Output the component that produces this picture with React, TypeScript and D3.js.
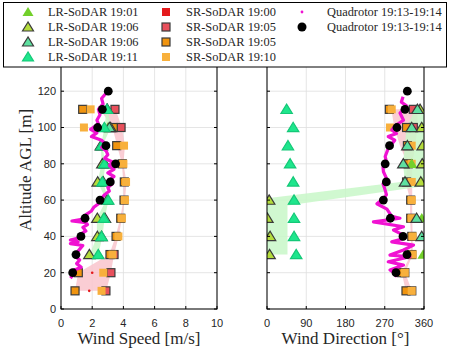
import React from "react";
import * as d3 from "d3";

// ---- data ----
const lrAlt = [30, 40, 50, 60, 70, 80, 90, 100, 110];
const lr1901Speed = [2.4, 2.5, 2.7, null, 2.6, 2.75, null, 3.0, null];
const lr1901Dir = [358, 5, 355, null, 355, 331.8, null, 357, null];
const lr1906aSpeed = [1.82, 2.33, 2.33, 2.95, 2.35, 2.65, 2.55, 3.18, 2.95];
const lr1906aDir = [6, 7, 1, 5, 352.5, 356, 357, 354.7, 351];
const lr1906bSpeed = [null, 2.6, 2.82, null, 2.71, 2.82, 2.62, 3.1, 2.97];
const lr1906bDir = [null, 354.7, 343, null, 316.4, 312.6, 321.8, 331.8, 345];
const lr1911Speed = [2.39, 2.6, 2.75, 3.03, 2.65, 2.78, 2.6, 2.78, 2.95];
const lr1911Dir = [67, 62, 62, 62, 60, 53, 48, 60, 45];

const srAlt = [10, 20, 30, 40, 50, 60, 70, 80, 90, 100, 110];
const sr1900Speed = [1.81, 2.0, null, null, null, null, null, null, null, null, null];
const sr1900Dir = [325, 312, null, null, null, null, null, null, null, null, null];
const sr1905aSpeed = [2.88, 3.2, 3.4, null, null, null, null, null, null, 3.85, 3.46];
const sr1905aDir = [332, 316, null, null, null, null, null, null, null, 335.5, 335.5];
const sr1905bSpeed = [0.9, 1.11, 3.14, 3.53, 3.83, 4.04, 4.06, 3.93, 3.57, 3.35, 1.39];
const sr1905bDir = [318.7, 309, 332, 332, 329.5, 329.5, 320, 324, 322, 320, 280.5];
const sr1910Speed = [2.6, 2.71, 3.3, 3.68, 3.9, 4.1, 4.17, 4.0, 4.04, 1.47, 1.9];
const sr1910Dir = [331.8, 316, 334, 334, 332, 332, 332, 331.8, 331.8, 282, 286];

const quadAlt = [20, 30, 40, 50, 60, 70, 80, 90, 100, 110, 120];
const quadSpeed = [0.75, 0.96, 1.28, 1.54, 2.5, 3.16, 3.5, 2.88, 2.35, 2.65, 3.03];
const quadDir = [295.8, 321, 311.9, 282.8, 266.8, 273.6, 271, 281, 298, 316.4, 321.8];

// high-rate quadrotor trace (alt, value)
const traceSpeed = [
  [119, 2.9], [116, 2.6], [113, 2.7], [110, 2.4], [107, 2.5], [104, 2.3], [102, 2.4],
  [99, 1.9], [97, 2.3], [95, 1.95], [93, 2.6], [91, 2.85], [89, 2.6], [87, 2.9],
  [85, 3.0], [83, 2.8], [81, 3.3], [79, 3.1], [77, 3.4], [75, 3.0], [73, 3.4],
  [71, 3.1], [69, 3.3], [67, 3.0], [65, 3.1], [63, 2.8], [61, 2.6], [58, 2.4],
  [56, 2.1], [54, 1.95], [52, 1.6], [50, 1.7], [48.5, 0.7], [47.5, 1.6], [46.5, 1.7],
  [45, 1.4], [43, 1.6], [41, 1.2], [39.5, 1.3], [38, 0.6], [37, 1.1], [36, 0.6],
  [35, 1.4], [33, 1.2], [31, 1.0], [29, 0.9], [27, 1.2], [25, 1.0], [23, 1.3],
  [21, 0.7], [19, 0.8], [17, 0.6],
];
const traceDir = [
  [117, 312], [114, 308], [112, 320], [108, 305], [104, 313], [101, 294], [98.6, 286],
  [96.7, 297], [95, 278], [93, 293], [88.5, 278], [84, 271], [81, 274], [78, 266],
  [75.6, 267], [72, 274], [69, 266], [67, 269], [63, 274], [61, 268], [58, 252],
  [55, 275], [51, 286], [50, 305], [48, 244], [45.3, 313], [43.5, 290], [41.7, 305],
  [39, 316], [37, 286], [35.2, 336], [32.5, 313], [29.7, 282], [28.8, 328], [26, 278],
  [24.2, 313], [21.5, 282], [19, 297], [17.8, 293],
];

// shaded ranges (alt, lo, hi)
const srBandSpeed = [
  [10, 0.9, 2.9], [20, 1.1, 3.2], [30, 3.1, 3.4], [40, 3.5, 3.7], [50, 3.8, 3.9],
  [60, 4.0, 4.1], [70, 4.0, 4.2], [80, 3.9, 4.0], [90, 3.6, 4.1], [100, 3.3, 3.9], [110, 2.5, 3.5],
];
const lrBandSpeed = [
  [30, 1.85, 2.4], [40, 2.3, 2.65], [50, 2.3, 2.8], [60, 2.9, 3.05], [70, 2.35, 2.7],
  [80, 2.6, 2.85], [90, 2.55, 2.65], [100, 2.8, 3.2], [110, 2.9, 3.0],
];
const srBandDir = [
  [10, 318, 332], [20, 309, 317], [30, 330, 334], [40, 330, 334], [50, 328, 333],
  [60, 328, 333], [70, 318, 333], [80, 322, 333], [90, 305, 340], [100, 292, 345], [110, 285, 345],
];
// polygon vertices (dir, alt)
const lrBandDir = [
  [0, 30], [47, 30], [47, 57], [351, 67.4], [360, 68], [360, 110], [340, 110],
  [320, 100], [312, 80], [316, 70.3], [0, 61],
];

const speedTicks = [0, 2, 4, 6, 8, 10];
const dirTicks = [0, 90, 180, 270, 360];
const altTicks = [0, 20, 40, 60, 80, 100, 120];

const legendLR = ["LR-SoDAR 19:01", "LR-SoDAR 19:06", "LR-SoDAR 19:06", "LR-SoDAR 19:11"];
const legendSR = ["SR-SoDAR 19:00", "SR-SoDAR 19:05", "SR-SoDAR 19:05", "SR-SoDAR 19:10"];
const legendQuad = ["Quadrotor 19:13-19:14", "Quadrotor 19:13-19:14"];

const EDGE = "#3a3a3a";
const lrStyles = [
  { fill: "#72d02a", stroke: "none" },
  { fill: "#b4dc3c", stroke: EDGE },
  { fill: "#5ee0a0", stroke: EDGE },
  { fill: "#1ee68c", stroke: "#14c878" },
];
const srStyles = [
  { fill: "#e41a1c", stroke: "none" },
  { fill: "#e8505c", stroke: EDGE },
  { fill: "#f0940f", stroke: EDGE },
  { fill: "#f8b03c", stroke: "none" },
];

const yScale = d3.scaleLinear().domain([0, 120]).range([309, 91.2]);
const plotTop = 66;
const plotBottom = yScale(0);

const tri = (cx: number, cy: number, s: number) =>
  `M${cx},${cy - s}L${cx - s - 0.5},${cy + s * 0.8}L${cx + s + 0.5},${cy + s * 0.8}Z`;

const sansFont = "Liberation Sans, Arial, sans-serif";
const serifFont = "Liberation Serif, Times New Roman, serif";

type PanelProps = {
  id: string;
  x: d3.ScaleLinear<number, number>;
  ticks: number[];
  showY: boolean;
  label: string;
  lr: (number | null)[][];
  sr: (number | null)[][];
  quad: number[];
  trace: number[][];
  srBand: number[][];
  lrBand?: number[][];
  lrPoly?: number[][];
};

const Panel = ({ id, x, ticks, showY, label, lr, sr, quad, trace, srBand, lrBand, lrPoly }: PanelProps) => {
  const [x0, x1] = x.range();
  const band = d3
    .area<number[]>()
    .y((d) => yScale(d[0]))
    .x0((d) => x(d[1]))
    .x1((d) => x(d[2]));
  const poly = d3
    .line<number[]>()
    .x((d) => x(d[0]))
    .y((d) => yScale(d[1]));
  const traceLine = d3
    .line<number[]>()
    .x((d) => x(d[1]))
    .y((d) => yScale(d[0]));

  return (
    <g>
      <defs>
        <clipPath id={id}>
          <rect x={x0} y={plotTop} width={x1 - x0} height={plotBottom - plotTop} />
        </clipPath>
      </defs>
      {/* grid */}
      {ticks.map((t) => (
        <line key={"gx" + t} x1={x(t)} x2={x(t)} y1={plotTop} y2={plotBottom} stroke="#dedede" strokeWidth={0.8} />
      ))}
      {altTicks.map((t) => (
        <line key={"gy" + t} x1={x0} x2={x1} y1={yScale(t)} y2={yScale(t)} stroke="#dedede" strokeWidth={0.8} />
      ))}
      <g clipPath={`url(#${id})`}>
        <path d={band(srBand) || ""} fill="#f9c4cc" opacity={0.85} />
        {lrBand && <path d={band(lrBand) || ""} fill="#c8f7c8" opacity={0.85} />}
        {lrPoly && <path d={(poly(lrPoly) || "") + "Z"} fill="#c8f7c8" opacity={0.85} />}
        {sr.map((vals, si) =>
          vals.map((v, i) =>
            v == null ? null : si === 0 ? (
              <circle key={`s${si}-${i}`} cx={x(v)} cy={yScale(srAlt[i])} r={1.3} fill={srStyles[0].fill} />
            ) : (
              <rect
                key={`s${si}-${i}`}
                x={x(v) - 4}
                y={yScale(srAlt[i]) - 4}
                width={8}
                height={8}
                fill={srStyles[si].fill}
                stroke={srStyles[si].stroke}
                strokeWidth={1.2}
              />
            )
          )
        )}
        {lr.map((vals, li) =>
          vals.map((v, i) =>
            v == null ? null : (
              <path
                key={`l${li}-${i}`}
                d={tri(x(v), yScale(lrAlt[i]), 5.2)}
                fill={lrStyles[li].fill}
                stroke={lrStyles[li].stroke}
                strokeWidth={1.2}
              />
            )
          )
        )}
        <path d={traceLine(trace) || ""} fill="none" stroke="#f012d2" strokeWidth={3.2} strokeLinejoin="round" />
        {quad.map((v, i) => (
          <circle key={"q" + i} cx={x(v)} cy={yScale(quadAlt[i])} r={4.4} fill="#000" />
        ))}
      </g>
      {/* frame */}
      <rect x={x0} y={plotTop} width={x1 - x0} height={plotBottom - plotTop} fill="none" stroke="#000" strokeWidth={1} />
      {ticks.map((t) => (
        <g key={"tx" + t}>
          <line x1={x(t)} x2={x(t)} y1={plotBottom} y2={plotBottom - 3} stroke="#000" />
          <text x={x(t)} y={327} textAnchor="middle" fontSize={11} fontFamily={sansFont} fill="#262626">
            {t}
          </text>
        </g>
      ))}
      {altTicks.map((t) => (
        <g key={"ty" + t}>
          <line x1={x0} x2={x0 + 3} y1={yScale(t)} y2={yScale(t)} stroke="#000" />
          <line x1={x1} x2={x1 - 3} y1={yScale(t)} y2={yScale(t)} stroke="#000" />
          {showY && (
            <text x={x0 - 5} y={yScale(t) + 3.8} textAnchor="end" fontSize={11} fontFamily={sansFont} fill="#262626">
              {t}
            </text>
          )}
        </g>
      ))}
      <text x={(x0 + x1) / 2} y={344} textAnchor="middle" fontSize={17} fontFamily={serifFont} fill="#262626">
        {label}
      </text>
    </g>
  );
};

const Legend = () => {
  const rows = [12, 27, 42, 57];
  return (
    <g>
      <rect x={3.5} y={2.5} width={443} height={64.5} fill="#fff" stroke="#000" strokeWidth={1} />
      {legendLR.map((t, i) => (
        <g key={"lr" + i}>
          <path d={tri(28, rows[i], 5)} fill={lrStyles[i].fill} stroke={lrStyles[i].stroke} strokeWidth={1.2} />
          <text x={48} y={rows[i] + 4} fontSize={12.4} fontFamily={serifFont} fill="#262626">{t}</text>
        </g>
      ))}
      {legendSR.map((t, i) => (
        <g key={"sr" + i}>
          <rect x={162} y={rows[i] - 4} width={8} height={8} fill={srStyles[i].fill} stroke={srStyles[i].stroke} strokeWidth={1.2} />
          <text x={186} y={rows[i] + 4} fontSize={12.4} fontFamily={serifFont} fill="#262626">{t}</text>
        </g>
      ))}
      {legendQuad.map((t, i) => (
        <g key={"q" + i}>
          {i === 0 ? (
            <circle cx={302} cy={rows[i]} r={1.4} fill="#f012d2" />
          ) : (
            <circle cx={302} cy={rows[i]} r={4.5} fill="#000" />
          )}
          <text x={327} y={rows[i] + 4} fontSize={12.4} fontFamily={serifFont} fill="#262626">{t}</text>
        </g>
      ))}
    </g>
  );
};

const App = () => {
  const xSpeed = d3.scaleLinear().domain([0, 10]).range([61, 217]);
  const xDir = d3.scaleLinear().domain([0, 360]).range([267, 424]);
  return (
    <svg width={468} height={350} style={{ position: "absolute", left: 0, top: 0, background: "#fff" }}>
      <rect width={468} height={350} fill="#fff" />
      <Panel
        id="clipSpeed"
        x={xSpeed}
        ticks={speedTicks}
        showY={true}
        label="Wind Speed [m/s]"
        lr={[lr1901Speed, lr1906aSpeed, lr1906bSpeed, lr1911Speed]}
        sr={[sr1900Speed, sr1905aSpeed, sr1905bSpeed, sr1910Speed]}
        quad={quadSpeed}
        trace={traceSpeed}
        srBand={srBandSpeed}
        lrBand={lrBandSpeed}
      />
      <Panel
        id="clipDir"
        x={xDir}
        ticks={dirTicks}
        showY={false}
        label="Wind Direction [°]"
        lr={[lr1901Dir, lr1906aDir, lr1906bDir, lr1911Dir]}
        sr={[sr1900Dir, sr1905aDir, sr1905bDir, sr1910Dir]}
        quad={quadDir}
        trace={traceDir}
        srBand={srBandDir}
        lrPoly={lrBandDir}
      />
      <text
        transform="translate(31,170) rotate(-90)"
        textAnchor="middle"
        fontSize={17}
        fontFamily={serifFont}
        fill="#262626"
      >
        Altitude AGL [m]
      </text>
      <Legend />
    </svg>
  );
};

export default App;
